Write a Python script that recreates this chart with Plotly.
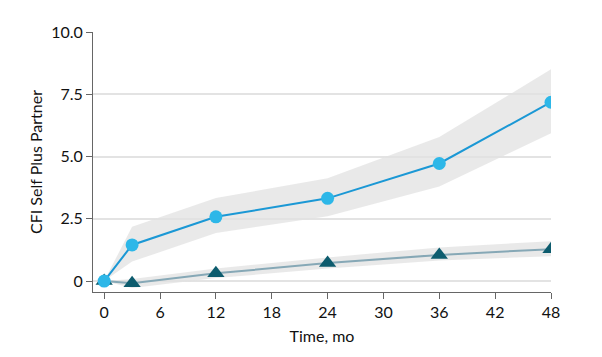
import plotly.graph_objects as go

months = [0, 3, 12, 24, 36, 48]
self_partner = [0, 1.45, 2.58, 3.32, 4.72, 7.18]
self_partner_hi = [0, 2.18, 3.33, 4.13, 5.78, 8.5]
self_partner_lo = [0, 0.78, 1.93, 2.6, 3.8, 5.93]
comparison = [0, -0.09, 0.31, 0.72, 1.05, 1.28]
comparison_hi = [0, 0.08, 0.5, 0.95, 1.35, 1.6]
comparison_lo = [0, -0.28, 0.12, 0.5, 0.82, 1.0]
y_ticks = [0, 2.5, 5.0, 7.5, 10.0]
y_tick_labels = ["0", "2.5", "5.0", "7.5", "10.0"]
x_ticks = [0, 6, 12, 18, 24, 30, 36, 42, 48]

FONT = "Lato"
fig = go.Figure()

def band(lo, hi):
    return go.Scatter(x=months + months[::-1], y=hi + lo[::-1], fill="toself",
                      fillcolor="rgba(225,225,225,0.75)", line=dict(width=0),
                      hoverinfo="skip", showlegend=False, mode="lines")

fig.add_trace(band(self_partner_lo, self_partner_hi))
fig.add_trace(band(comparison_lo, comparison_hi))

fig.add_trace(go.Scatter(x=months, y=comparison, mode="lines",
                         line=dict(color="#86a8b6", width=2), showlegend=False))
fig.add_trace(go.Scatter(x=months, y=comparison, mode="markers",
                         marker=dict(symbol="triangle-up", size=15, color="#0d5c6e"),
                         showlegend=False))
fig.add_trace(go.Scatter(x=months, y=self_partner, mode="lines+markers",
                         line=dict(color="#1b98d5", width=2),
                         marker=dict(symbol="circle", size=13, color="#2db7e8"),
                         showlegend=False))

fig.update_layout(
    width=594, height=349,
    margin=dict(l=85, r=51, t=24, b=65),
    paper_bgcolor="white", plot_bgcolor="white",
    font=dict(family=FONT, size=16, color="#111"),
    xaxis=dict(range=[-1.2, 48], tickvals=x_ticks, showgrid=False, zeroline=False,
               showline=True, linecolor="#666", linewidth=1, ticks="outside",
               ticklen=6, tickcolor="#666", automargin=False,
               title=dict(text="Time, mo", font=dict(family=FONT, size=16), standoff=10)),
    yaxis=dict(range=[-0.44, 10], tickvals=y_ticks, ticktext=y_tick_labels,
               showgrid=True, gridcolor="#e3e3e3", gridwidth=1.5, zeroline=False,
               showline=True, linecolor="#666", linewidth=1, ticks="outside",
               ticklen=6, tickcolor="#666", automargin=False,
               title=dict(text="CFI Self Plus Partner", font=dict(family=FONT, size=16), standoff=4)),
)

fig.write_html("out.html")
